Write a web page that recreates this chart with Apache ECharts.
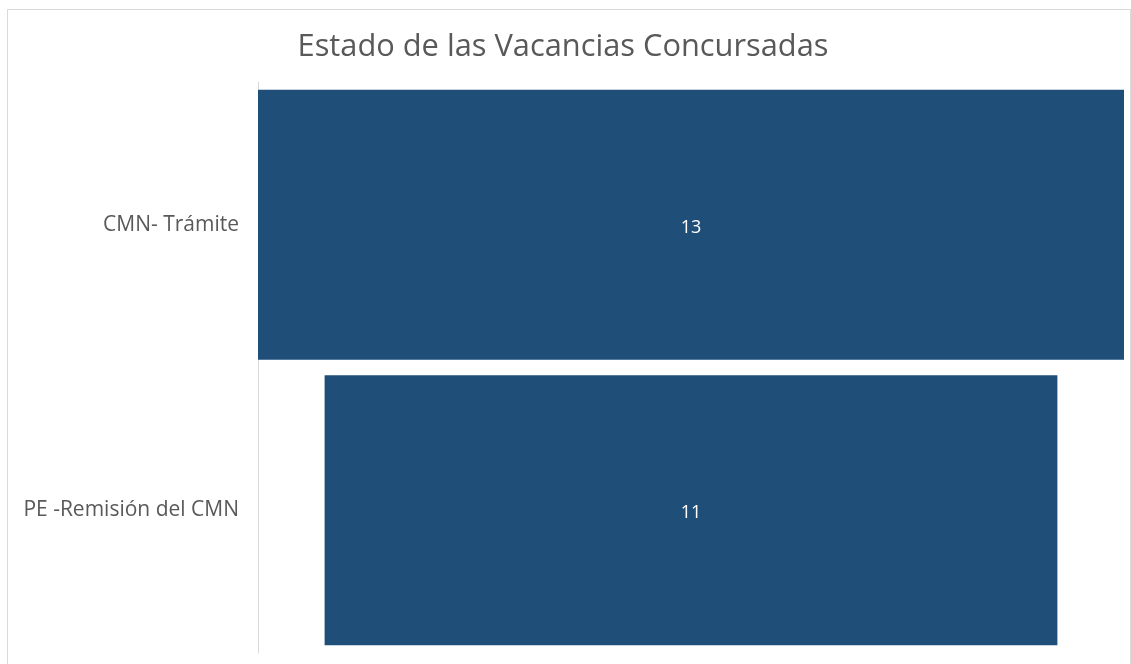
<!DOCTYPE html>
<html>
<head>
<meta charset="utf-8">
<script src="https://cdn.jsdelivr.net/npm/echarts@6/dist/echarts.min.js"></script>
<style>
  html, body { margin: 0; padding: 0; background: #fff; }
  #chart { width: 1131px; height: 664px; }
</style>
</head>
<body>
<div id="chart"></div>
<script>
// funnel stages, top to bottom
const categories = ['CMN- Trámite', 'PE -Remisión del CMN']
const values = [13, 11]

const maxVal = Math.max(...values)
// invisible offset so each bar sits centered (funnel look)
const offsets = values.map(v => (maxVal - v) / 2)

const chart = echarts.init(document.getElementById('chart'))
chart.setOption({
  animation: false,
  title: {
    text: 'Estado de las Vacancias Concursadas',
    left: 558,
    textAlign: 'center',
    top: 27,
    textStyle: {
      fontFamily: 'Open Sans',
      fontSize: 30.8,
      fontWeight: 'normal',
      color: '#595959'
    }
  },
  graphic: [
    {
      type: 'rect',
      shape: { x: 7.5, y: 9.5, width: 1123, height: 670 },
      style: { fill: 'none', stroke: '#d9d9d9', lineWidth: 1 },
      silent: true
    }
  ],
  grid: {
    left: 258,
    right: 7,
    top: 82,
    bottom: 11
  },
  xAxis: {
    type: 'value',
    min: 0,
    max: maxVal,
    show: false
  },
  yAxis: {
    type: 'category',
    inverse: true,
    data: categories,
    axisLine: { show: true, lineStyle: { color: '#d9d9d9', width: 1 } },
    axisTick: { show: false },
    axisLabel: {
      margin: 19,
      fontFamily: 'Open Sans',
      fontSize: 21,
      color: '#595959',
      padding: [8, 0, 0, 0]
    }
  },
  series: [
    {
      type: 'bar',
      stack: 'funnel',
      data: offsets,
      itemStyle: { color: 'transparent' },
      silent: true
    },
    {
      type: 'bar',
      stack: 'funnel',
      data: values,
      barCategoryGap: '5.4%',
      itemStyle: { color: '#1f4e79' },
      label: {
        show: true,
        position: 'inside',
        color: '#fff',
        fontFamily: 'Open Sans',
        fontSize: 18,
        offset: [0, 3]
      }
    }
  ]
})
</script>
</body>
</html>
